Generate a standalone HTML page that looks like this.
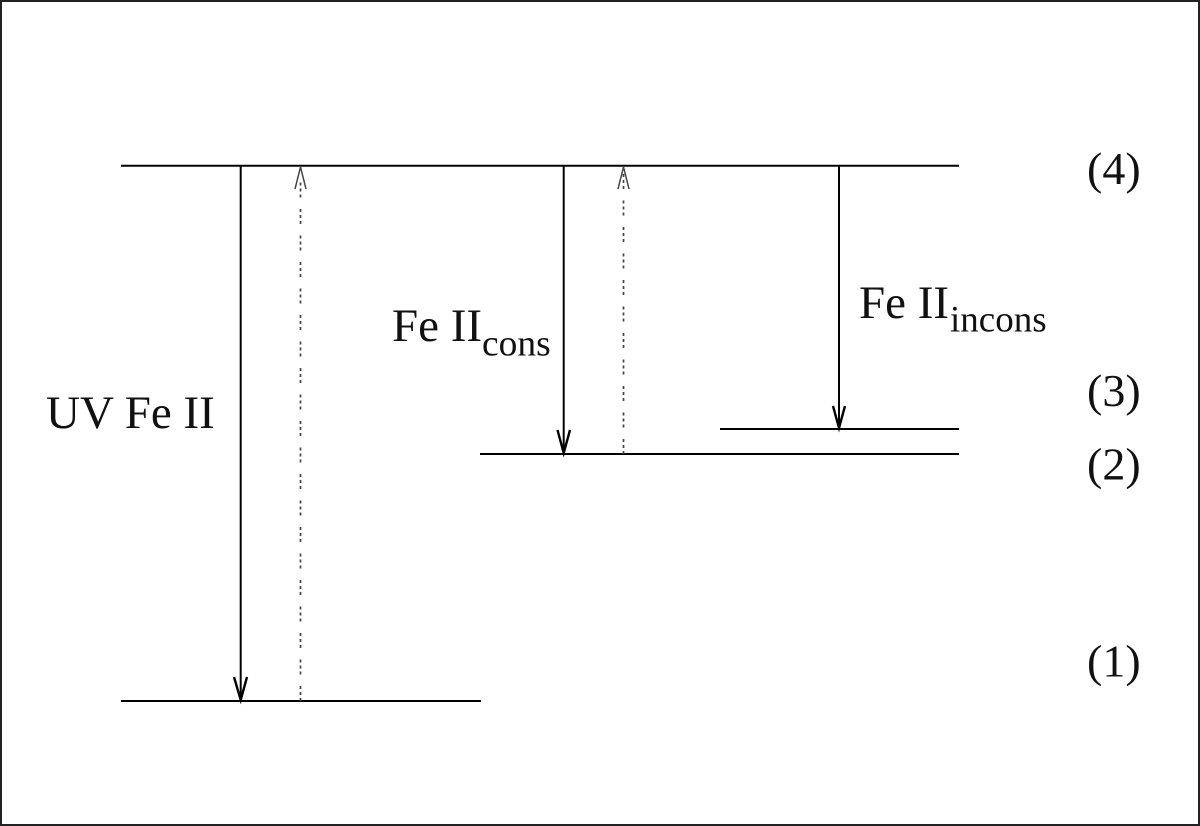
<!DOCTYPE html>
<html>
<head>
<meta charset="utf-8">
<style>
html,body{margin:0;padding:0;background:#fff;width:1200px;height:826px;overflow:hidden}
svg{display:block}
text{font-family:"Liberation Serif",serif;fill:#111}
</style>
</head>
<body>
<svg width="1200" height="826" viewBox="0 0 1200 826" xmlns="http://www.w3.org/2000/svg">
<rect x="1" y="1" width="1198" height="824" fill="#fff" stroke="#222" stroke-width="2"/>
<g stroke="#000" stroke-width="2" fill="none">
<line x1="121" y1="165.800" x2="959" y2="165.800"/>
<line x1="720" y1="429" x2="959" y2="429"/>
<line x1="480" y1="454" x2="959" y2="454"/>
<line x1="121" y1="701" x2="481" y2="701"/>
<line x1="240.700" y1="166" x2="240.700" y2="700"/>
<line x1="563.700" y1="166" x2="563.700" y2="453"/>
<line x1="839" y1="166" x2="839" y2="428"/>
</g>
<g stroke="#000" stroke-width="2.400" fill="none">
<polyline points="234,677 240.700,700 247,677"/>
<polyline points="557.500,430 563.700,453 570,430"/>
<polyline points="833,406 839,428 845,406"/>
</g>
<g stroke="#444" fill="none">
<line x1="300.500" y1="182.500" x2="300.500" y2="701" stroke-width="1.700" stroke-dasharray="3 3 3 3 3 11.500"/>
<line x1="623.500" y1="174" x2="623.500" y2="454" stroke-width="1.700" stroke-dasharray="3 3 3 3 3 11.500"/>
<polyline points="295,189 300.500,167 306,189" stroke-width="1.500"/>
<polyline points="618,189 623.500,167 629,189" stroke-width="1.500"/>
</g>
<text x="46" y="428" font-size="47">UV Fe II</text>
<text x="392" y="341" font-size="47">Fe II</text>
<text x="482" y="355.500" font-size="37.500">cons</text>
<text x="859" y="318" font-size="47">Fe II</text>
<text x="950" y="331.500" font-size="37">incons</text>
<text x="1087" y="184" font-size="46">(4)</text>
<text x="1087" y="406" font-size="46">(3)</text>
<text x="1087" y="479.500" font-size="46">(2)</text>
<text x="1087" y="676.500" font-size="46">(1)</text>
</svg>
</body>
</html>
